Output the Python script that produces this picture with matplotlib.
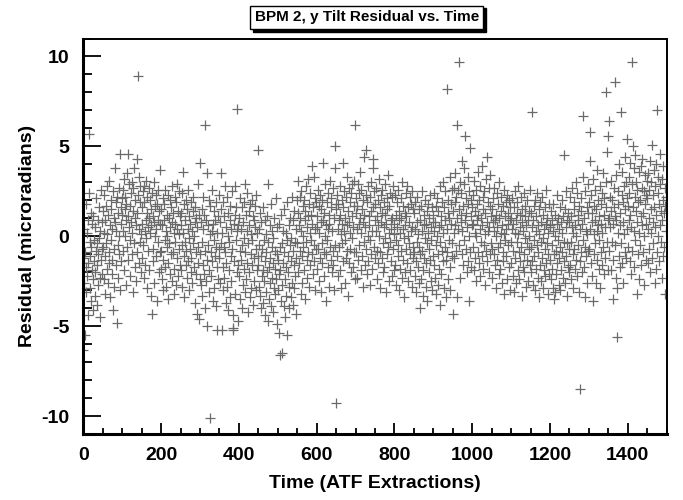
import numpy as np
import matplotlib
matplotlib.use('Agg')
from matplotlib import pyplot as plt
from matplotlib.patches import Rectangle

plt.rcParams['font.family'] = ['Liberation Sans', 'DejaVu Sans']
plt.rcParams['font.weight'] = 'bold'
plt.rcParams['axes.unicode_minus'] = False

title = "BPM 2, y Tilt Residual vs. Time"
x_label = "Time (ATF Extractions)"
y_label = "Residual (microradians)"
x_ticks = [0, 200, 400, 600, 800, 1000, 1200, 1400]
y_ticks = [-10, -5, 0, 5, 10]

# residual per extraction, one row = 50 extractions
residual = [
    -6.3, -1.2, 0.4, -2.6, -5.5, -0.9, 1.8, -3.1, -1.7, 0.2, -2.2, -4.4, 0.9, -1.5, 2.4, 5.7, -0.3, -2.9, -1.1, 1.3, -3.6, -0.6, -1.9, 0.7, -2.4, -4.1, 1.1, -0.2, -1.4, -3.3, 0.5, -2.0, -0.8, 2.1, -1.6, -3.8, -0.4, 0.9, -2.7, -1.0, 1.6, -0.1, -2.3, -4.5, 0.3, -1.3, 2.6, -0.7, -2.1, 0.8,
    -0.6, 1.4, -2.4, 0.2, 2.3, -1.1, -3.2, 0.9, 1.7, -0.4, -1.8, 2.8, 0.1, -2.6, 1.2, -0.9, 3.1, -1.5, 0.6, -3.4, 2.0, -0.2, 1.5, -2.1, 0.4, -1.3, 2.5, -4.1, 1.0, -0.7, -2.8, 0.8, 3.8, -1.6, 1.9, 0.3, -4.8, 2.2, -0.5, 1.3, -2.3, 0.0, -1.0, 2.7, 4.6, -3.0, 0.7, 1.6, -1.4, 2.1,
    1.2, -0.8, 2.6, 0.3, 3.2, -1.9, 1.5, 0.0, 2.2, -2.7, 0.9, 1.8, -0.6, 3.5, 1.1, -1.3, 4.6, 0.5, 2.9, -0.2, 1.7, -2.2, 0.8, 2.4, -1.0, 3.0, 0.2, -3.1, 1.4, 2.7, -0.4, 3.8, 1.0, -1.7, 2.0, 0.6, -2.5, 4.3, 1.3, -0.9, 2.3, 8.9, 0.4, -1.5, 3.3, 1.9, -0.3, 2.8, 0.1, -2.0,
    1.6, -1.2, 0.7, 2.5, -0.5, 1.9, -2.3, 2.8, 0.3, -1.6, 3.1, 0.9, -0.1, 2.2, -2.9, 1.3, 0.5, -0.8, 2.7, 1.0, -1.9, 0.2, 2.0, -3.3, 1.5, 0.6, -4.3, 2.4, -0.7, 1.1, -1.4, 0.8, 3.0, -2.6, 1.7, 0.0, 2.3, -1.1, 0.4, -3.6, 1.8, 2.6, -0.3, 0.9, -2.0, 1.4, -0.9, 3.7, 0.7, -1.8,
    -0.8, 1.5, -2.4, 0.6, 2.1, -1.3, -3.0, 0.9, 1.8, -0.2, -1.7, 2.6, 0.3, -2.8, 1.2, -0.6, 0.0, 2.3, -1.5, -3.5, 1.0, -0.4, 2.0, -2.1, 0.5, 1.6, -1.0, -2.5, 0.8, 2.8, -0.9, 1.3, -3.2, 0.2, -1.8, 2.2, 0.7, -0.3, 1.9, -2.7, 2.9, -1.2, 0.4, 1.4, -2.2, -0.7, 2.5, 0.1, -1.6, 1.1,
    0.6, -1.9, 1.3, -0.5, 2.4, -2.8, 3.6, 0.2, -1.1, 1.8, -3.4, -0.3, 0.9, 2.0, -1.6, -0.8, 1.5, -2.3, 0.4, -1.4, 2.6, -0.1, -3.0, 1.1, -0.7, 0.7, -2.0, 1.9, -1.2, 0.3, -2.6, 1.4, -0.4, 2.2, -1.7, 0.0, -3.7, 0.8, 1.6, -0.9, -2.1, 1.0, -4.3, 0.5, -1.5, 2.9, -0.6, -4.6, 1.2, -2.4,
    4.1, -1.0, 0.8, -2.7, 1.5, -0.3, -3.3, 2.2, -1.6, 0.4, -2.1, 1.2, -4.0, 6.2, -0.8, 0.9, -2.5, 3.5, -1.3, -5.0, 0.6, -0.5, 2.0, -3.1, -1.9, 0.1, -10.1, 1.7, -0.9, -2.2, 0.3, 2.6, -1.4, -3.6, 0.7, -0.2, 1.4, -2.9, -1.1, 0.9, -0.6, -3.9, 1.9, -1.7, 0.2, -5.2, -2.4, 1.1, -0.7, 2.3,
    -1.2, 0.8, -2.6, 1.5, 3.5, -0.4, -5.2, 0.2, -3.0, 1.9, -1.7, -0.6, 1.1, -2.3, 2.8, -0.9, -3.7, 0.5, -1.5, 2.2, -2.8, 0.0, -4.1, 1.3, -0.3, -1.9, 0.9, -3.4, 1.7, -1.1, 0.4, -2.5, 2.5, -0.7, -4.4, -5.2, -5.1, 0.7, -1.4, 1.2, 2.8, -3.2, -0.2, 1.6, 7.1, -2.0, 0.3, -1.6, -4.7, 0.6,
    -2.2, 1.0, -0.8, -3.5, 2.1, -1.3, 0.4, -4.0, 1.6, -0.5, -2.7, 0.8, -1.8, 1.9, -0.1, 2.9, -3.1, -0.9, 1.2, -2.4, 0.3, -1.5, 2.4, -4.2, -0.4, 1.4, -2.0, 0.6, -3.4, 1.8, -1.0, -2.9, 0.1, 2.0, -1.6, -0.2, 1.1, -3.8, 0.9, -1.2, -2.5, 0.5, 1.7, -0.7, -3.0, 2.3, -1.9, 0.2, 4.8, -1.1,
    -1.6, 0.4, -2.8, -0.5, 1.3, -3.3, -1.1, -4.0, 0.8, -2.2, -0.7, -3.7, 1.6, -1.9, -0.2, -2.5, 0.9, -4.4, -1.4, 0.1, -3.1, -0.9, 1.1, -2.0, -4.7, -0.3, 2.9, -1.7, -3.5, 0.6, -2.6, -1.2, 1.8, -3.9, -0.6, -2.3, 0.3, -1.5, -4.2, -0.1, -2.9, 1.0, -1.8, -3.2, -0.8, 2.1, -2.4, -1.0, -4.9, 0.5,
    -1.3, -3.0, 0.7, -2.1, -5.4, -0.6, -6.6, -1.9, 1.2, -3.6, -6.5, -0.4, -2.7, 0.3, -1.5, -3.9, 1.5, -0.9, -2.4, -4.5, 0.2, -1.7, -3.3, -5.5, -0.2, 1.9, -2.0, -1.1, -4.0, 0.6, -2.8, -0.5, 1.0, -3.4, -1.4, -0.1, 2.2, -2.6, -0.8, -3.8, 0.9, -1.6, -2.9, 1.4, -0.3, -2.2, 0.4, -4.3, -1.2, 2.0,
    -0.4, 1.3, -2.0, 3.1, 0.6, -1.5, 2.2, -0.8, 1.0, -3.2, 0.3, 2.5, -1.1, -2.6, 1.7, 0.0, -0.6, 2.0, -1.9, 0.9, -3.5, 1.4, -0.3, 2.8, -1.3, 0.5, -2.3, 3.2, 1.1, -0.9, 1.8, -2.8, 0.2, -1.6, 2.4, -0.2, 1.2, 3.9, -1.0, 0.7, -2.1, 1.6, 3.3, -0.5, -1.4, 2.1, 0.4, -3.0, 1.9, -0.7,
    1.1, -1.8, 0.5, 2.6, -0.7, 1.7, -2.5, 0.2, 2.3, -1.2, 0.8, -3.1, 1.5, -0.4, 2.0, -1.5, 0.9, 4.1, -0.9, 1.3, -2.2, 0.0, 2.9, -1.0, 0.6, -3.6, 1.9, -0.2, 2.4, -1.7, 0.4, 1.2, -2.8, 0.7, 3.1, -0.6, 1.6, -1.3, 2.1, -2.0, 0.3, -0.8, 2.7, -1.6, 1.0, -3.0, 3.8, 5.0, -0.5, 1.8,
    -9.3, 1.5, -1.1, 2.3, 0.4, -2.2, 1.8, 0.9, -0.6, 2.8, -1.9, 1.2, 0.1, -2.9, 2.0, 0.7, -0.4, 1.6, -1.4, 4.1, 0.3, 2.5, -2.6, 1.0, -0.2, 2.2, -1.2, 0.6, 3.3, -0.8, 1.4, -3.3, 0.8, 2.7, -1.5, 0.2, 1.9, -0.7, 2.4, -2.0, 1.1, -0.1, 2.9, -1.7, 0.5, 3.1, -0.9, 1.7, -2.4, 6.2,
    1.3, -0.9, 2.1, 0.4, -2.3, 1.7, 2.9, -1.3, 0.7, 2.4, -0.5, 1.0, 3.6, -1.9, 0.2, 2.6, -1.1, 1.5, -2.8, 0.8, 2.0, -0.3, 4.4, 1.2, -1.6, 0.5, 2.3, 4.8, -0.7, 1.9, -2.1, 0.0, 2.8, -1.4, 1.1, 0.6, -2.7, 2.2, -0.2, 1.4, -1.0, 3.0, 0.3, -1.8, 3.8, 1.6, 4.3, -0.6, 2.5, 0.9,
    -1.2, 1.8, 0.3, 2.7, -0.8, 1.1, -2.4, 2.0, 0.6, -1.5, 3.2, 0.0, -0.9, 1.6, -2.9, 2.3, 0.8, -1.2, 1.3, 2.6, -0.4, -2.0, 1.9, 0.5, -1.7, 2.9, -0.1, 1.2, -3.1, 0.7, 2.1, -1.0, 1.5, -0.6, 3.4, 0.2, -2.5, 1.7, -0.3, 2.4, 0.9, -1.4, 0.4, 2.2, -2.2, 1.0, -0.7, 2.8, 0.1, -1.9,
    0.7, -1.6, 2.3, -0.2, 1.2, -2.7, 0.5, 1.9, -1.1, 2.6, -0.5, 0.9, -3.0, 1.4, 0.2, -1.8, 2.1, -0.8, 1.0, -2.3, 3.0, 0.4, -1.3, 1.7, -0.1, -3.4, 1.3, 0.6, -2.0, 2.4, -0.7, 1.1, -1.5, 2.8, 0.0, -2.5, 1.6, -0.4, 0.8, -1.9, 2.2, -1.0, 0.3, 1.8, -2.8, 0.5, 2.5, -0.6, 1.5, -1.2,
    -0.9, 1.3, -2.2, 0.4, 1.9, -1.4, -3.1, 0.8, -0.3, 2.2, -1.7, 0.1, -2.6, 1.5, -0.6, 0.9, -4.0, -1.0, 1.7, -2.4, 0.3, -0.8, 2.5, -1.9, -3.3, 0.6, 1.2, -1.2, -0.1, 2.0, -2.8, 0.7, -1.5, 1.4, -0.4, -3.6, 0.2, 1.8, -2.0, -0.7, 1.0, -1.3, 2.3, -2.5, 0.5, -0.2, -3.0, 1.6, -1.1, 0.8,
    1.2, -1.6, 0.3, 2.4, -2.3, 0.8, -0.5, 1.7, -3.2, 0.0, 2.1, -1.0, -2.7, 1.4, 0.5, -1.8, 2.8, -0.3, -3.8, 1.1, 0.6, -2.1, 1.9, -0.8, 3.0, -1.4, 0.2, -2.9, 1.6, -0.6, 2.5, 0.9, -1.3, -3.4, 0.4, 8.2, -0.9, 1.3, -2.4, 2.0, -0.2, 1.0, -1.7, 3.3, -3.0, 0.7, 1.8, -1.1, 2.6, -0.4,
    -4.3, 1.4, 0.2, 2.7, -1.2, 1.9, 0.6, 3.5, -0.8, 2.2, 1.0, 6.2, -3.4, 2.6, 0.4, 9.7, 1.5, -0.5, 3.0, -2.3, 1.2, 0.8, 2.4, -1.0, 4.2, 0.3, -1.6, 1.7, 2.9, -0.2, 3.8, 0.9, 5.6, -0.7, 1.3, 2.1, -2.0, 0.5, 3.3, -1.4, 1.8, 0.0, -3.6, 2.5, -0.9, 4.9, 1.1, -1.7, 2.0, 0.6,
    1.6, -0.6, 2.3, 0.7, -1.9, 3.1, 0.2, 1.4, -1.2, 2.6, 0.0, -2.5, 1.8, 0.9, 3.6, -0.9, 1.2, -1.5, 2.0, 0.4, -2.2, 2.8, 1.0, -0.3, 3.9, -1.1, 0.6, 2.2, -1.8, 1.5, -0.5, 2.5, 0.1, -2.7, 1.3, 3.2, -0.8, 4.4, 0.8, -1.4, 1.9, 0.3, -2.0, 2.7, 0.5, -1.0, 1.7, 3.4, -0.4, 1.1,
    -0.7, 1.5, -2.3, 0.8, 2.1, -1.0, 0.3, 2.7, -1.6, 0.9, -2.9, 1.2, 0.0, -1.3, 2.4, 0.5, -0.6, 1.8, -2.1, 1.0, 3.0, -0.4, -1.8, 1.4, 0.2, 2.2, -2.6, 0.6, -0.9, 1.7, -1.4, 2.6, 0.1, -3.2, 1.1, -0.2, 1.9, -1.1, 0.4, 2.3, -2.4, 0.7, 1.3, -0.5, -1.7, 2.0, 0.9, -3.0, 1.6, -0.3,
    1.0, -1.5, 0.4, 2.1, -2.2, 0.7, -0.8, 1.6, -3.1, 0.2, 2.5, -1.2, 0.9, -2.6, 1.3, -0.3, 1.9, -1.9, 0.1, 2.8, -0.9, -2.4, 1.2, 0.5, -1.4, 2.2, -0.6, -3.3, 0.8, 1.5, -1.7, 0.3, 2.4, -1.0, -2.0, 1.1, -0.1, 1.7, -2.8, 0.6, -0.4, 2.0, -1.3, 0.9, -2.5, 1.4, 0.0, -0.7, 2.6, -1.6,
    -0.6, 1.3, -2.0, 0.5, -1.4, 6.9, 0.9, -2.7, 1.7, -0.2, -1.1, 2.0, -3.0, 0.3, 1.1, -1.8, -0.5, 2.4, -2.3, 0.6, -0.9, 1.5, -3.4, 0.1, -1.6, 1.9, -0.3, -2.5, 0.8, 2.2, -1.2, -0.1, 1.2, -2.9, 0.4, -1.9, 1.6, -0.7, -2.2, 0.7, 2.6, -1.5, -0.4, 1.0, -3.2, 0.2, -1.0, 1.8, -2.1, 0.5,
    -1.3, 0.6, -2.4, 1.4, -0.5, -1.8, 0.9, -2.9, 0.3, 1.8, -1.0, -3.5, 0.0, -3.1, 1.2, -0.8, -2.1, 0.7, 2.3, -1.5, -0.2, 1.0, -2.7, 0.4, -1.2, 1.6, -3.0, -0.6, 0.8, -1.9, 2.0, -0.9, 0.2, -2.3, 1.1, 4.5, -1.4, -0.3, 1.5, -2.6, 0.5, -1.1, 2.5, -0.4, -3.3, 0.9, -1.7, 1.3, -0.7, -2.0,
    0.8, -1.6, 2.2, -0.3, 1.1, -2.4, 0.5, 2.7, -1.0, 0.2, -2.9, 1.5, -0.7, 1.9, -1.8, 0.6, 3.0, -1.3, 0.0, 2.4, -2.2, 1.2, -0.5, 0.9, -3.1, 1.7, -8.5, 0.4, -1.4, 2.1, -0.9, 1.4, -2.0, 0.7, 3.3, -0.2, 6.7, -1.7, 1.0, -0.6, -3.4, 2.5, 0.3, -1.1, 1.6, -2.6, 0.1, 2.9, -0.8, 1.3,
    1.9, -0.7, 0.4, 5.8, 4.2, -1.5, 2.3, 0.8, -2.2, 1.3, 3.2, -3.6, 0.1, 1.7, -1.0, 2.6, -0.4, 0.9, -2.6, 1.5, 0.3, 3.7, -1.3, 0.6, 2.0, -1.8, 1.1, -0.2, 2.8, -2.9, 0.7, 1.8, -0.9, 2.4, -1.6, 0.2, 3.5, -0.6, 1.2, -2.1, 2.1, 0.5, -1.2, 3.0, 8.0, 1.6, 4.7, -0.3, 0.9, -1.9,
    5.6, 1.0, 6.4, -0.8, 2.2, 0.5, -1.9, 1.4, 3.1, -0.3, 2.0, -1.3, 0.7, -3.5, 1.6, 2.7, -0.5, 1.1, 8.6, -2.3, 0.9, 3.4, -5.6, -2.9, 1.8, 0.2, 2.5, -1.1, 4.0, 0.6, -1.7, 1.3, 6.9, -0.4, 2.3, 3.6, -1.5, 0.8, 1.9, -2.6, 2.8, 0.1, 4.4, -0.9, 1.5, 3.0, -1.2, 2.1, 5.4, 0.4,
    1.7, -0.6, 3.3, 0.9, 2.4, -1.4, 4.1, 1.2, -2.1, 0.5, 2.9, -0.8, 9.7, 5.0, 1.6, 3.8, -1.7, 0.3, 2.2, 4.5, -0.2, 1.4, 3.0, -3.2, 0.8, 2.6, -1.0, 1.9, 3.6, -2.4, 0.2, 2.0, -0.5, 3.9, 1.1, -1.6, 2.7, 0.6, 4.3, -0.9, 1.3, 2.5, -2.7, 0.0, 3.4, 1.8, -1.3, 2.3, 0.7, 3.1,
    2.1, 0.4, -1.5, 3.5, 1.0, -0.7, 2.6, 4.2, -2.0, 1.5, 0.2, 3.0, 5.1, -1.2, 2.3, 0.8, -0.4, 3.7, 1.6, -2.6, 2.8, 0.5, 4.0, -1.8, 1.2, 7.0, -0.9, 2.4, 3.3, 0.0, 1.8, -1.4, 2.9, 0.6, 4.6, -0.3, 1.4, -2.3, 3.2, 0.9, 2.0, -1.1, 3.9, 1.3, -0.6, 2.7, -3.2, 1.7, 0.3, 2.2,
]
extraction = np.arange(len(residual))

fig = plt.figure(figsize=(6.83, 5.0), dpi=100)
ax = fig.add_axes([0.122, 0.132, 0.854, 0.791])

ax.plot(extraction, residual, linestyle='none', marker='+', markersize=7,
        markeredgewidth=0.9, color='#6a6a6a')

ax.set_xlim(0, 1500)
ax.set_ylim(-11, 11)
ax.set_xticks(x_ticks)
ax.set_xticks(np.arange(0, 1501, 50), minor=True)
ax.set_yticks(y_ticks)
ax.set_yticks(np.arange(-11, 12, 1), minor=True)
ax.tick_params(axis='both', which='both', direction='in', top=False, right=False,
               labelsize=14, width=1.3)
ax.tick_params(axis='y', which='major', length=13, pad=10)
ax.tick_params(axis='y', which='minor', length=6.5)
ax.tick_params(axis='x', which='major', length=8, pad=9)
ax.tick_params(axis='x', which='minor', length=4)
for lab in ax.get_xticklabels() + ax.get_yticklabels():
    lab.set_fontweight('bold')

ax.spines['left'].set_linewidth(2.2)
ax.spines['bottom'].set_linewidth(2.2)
ax.spines['top'].set_linewidth(1.4)
ax.spines['right'].set_linewidth(1.4)

ax.set_xlabel(x_label, fontsize=14, fontweight='bold', labelpad=8)
ax.set_ylabel(y_label, fontsize=14, fontweight='bold', labelpad=4)

# title box with a drop shadow
t = fig.text(0.537, 0.965, title, fontsize=11, fontweight='bold', ha='center', va='center',
             zorder=5, bbox=dict(boxstyle='square,pad=0.3', fc='white', ec='black', lw=1))
fig.canvas.draw()
bb = t.get_bbox_patch().get_window_extent().transformed(fig.transFigure.inverted())
fig.add_artist(Rectangle((bb.x0 + 0.004, bb.y0 - 0.005), bb.width, bb.height,
                         transform=fig.transFigure, fc='black', ec='black', zorder=4))

fig.savefig('out.png', dpi=100)
